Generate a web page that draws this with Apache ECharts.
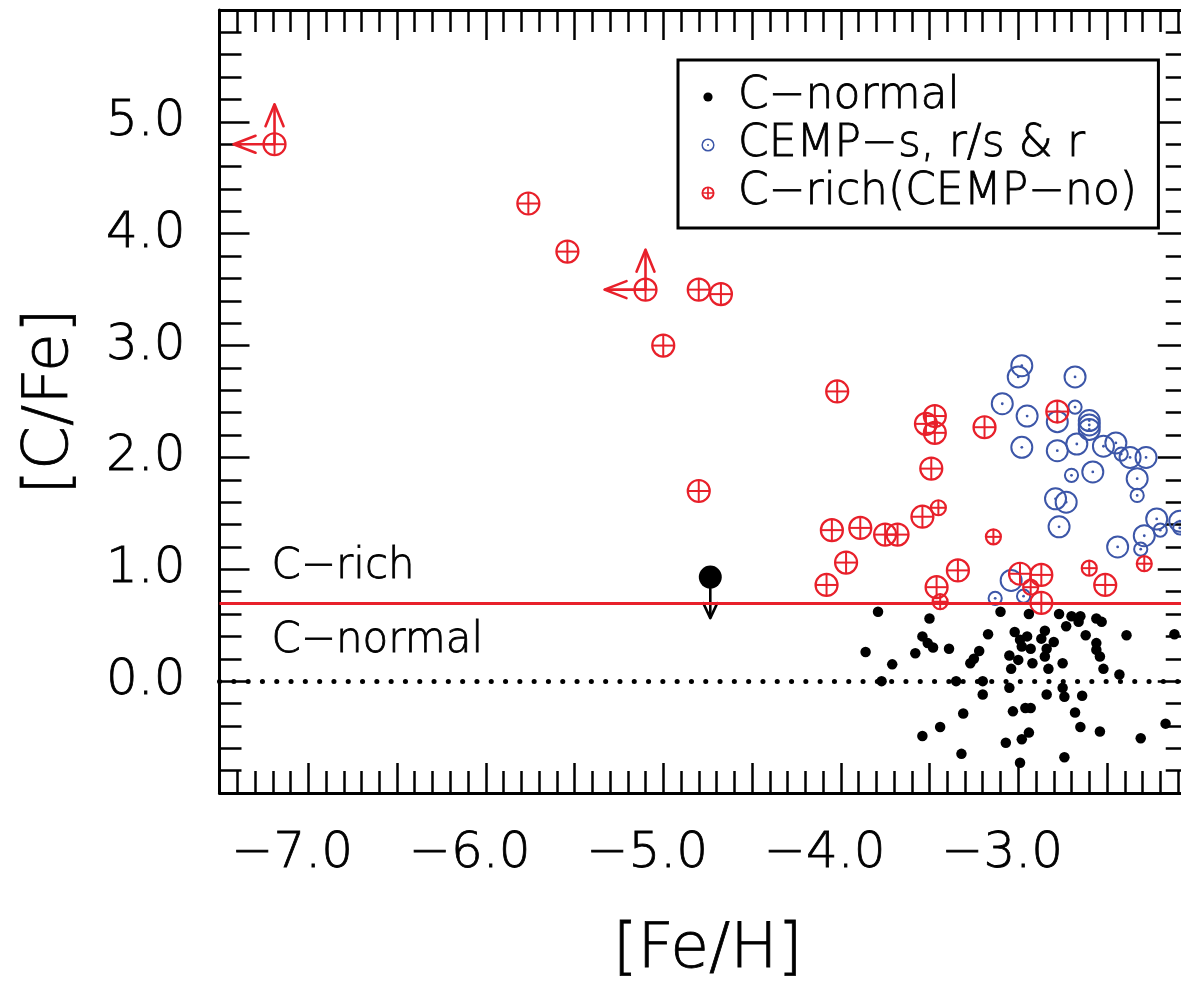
<!DOCTYPE html>
<html>
<head>
<meta charset="utf-8">
<title>[C/Fe] vs [Fe/H]</title>
<script src="https://cdn.jsdelivr.net/npm/echarts@6/dist/echarts.min.js"></script>
<style>
  html, body { margin: 0; padding: 0; background: #fff; overflow: hidden; }
  #chart { width: 1181px; height: 982px; }
</style>
</head>
<body>
<div id="chart"></div>
<script>
// ---- data: [Fe/H], [C/Fe] ----
const xTickValues = [-7, -6, -5, -4, -3];
const yTickValues = [0, 1, 2, 3, 4, 5];

// carbon-normal stars
const cNormal = [
  [-3.79, 0.62], [-3.50, 0.56], [-3.54, 0.40], [-3.51, 0.34], [-3.48, 0.30], [-3.86, 0.26],
  [-3.58, 0.25], [-3.39, 0.29], [-3.71, 0.15], [-3.27, 0.16], [-3.25, 0.20], [-3.22, 0.27],
  [-3.17, 0.42], [-3.10, 0.62], [-3.02, 0.44], [-2.99, 0.37], [-2.95, 0.40], [-2.98, 0.31],
  [-2.93, 0.29], [-2.94, 0.60], [-2.85, 0.45], [-2.87, 0.38], [-2.80, 0.35], [-2.84, 0.29],
  [-2.85, 0.22], [-3.05, 0.23], [-3.00, 0.19], [-2.92, 0.16], [-3.04, 0.11], [-2.83, 0.11],
  [-2.75, 0.16], [-2.77, 0.60], [-2.70, 0.58], [-2.65, 0.58], [-2.66, 0.53], [-2.73, 0.49],
  [-2.62, 0.41], [-2.56, 0.56], [-2.53, 0.53], [-2.56, 0.34], [-2.56, 0.28], [-2.54, 0.22],
  [-2.52, 0.11], [-2.43, 0.06], [-2.39, 0.41], [-2.12, 0.42], [-3.77, 0.00], [-3.35, 0.00],
  [-3.20, 0.00], [-3.20, -0.12], [-3.05, -0.06], [-2.75, -0.06], [-2.74, -0.14], [-2.64, -0.13],
  [-2.84, -0.12], [-3.31, -0.29], [-3.03, -0.27], [-2.96, -0.24], [-2.93, -0.24], [-2.68, -0.28],
  [-3.44, -0.41], [-3.54, -0.49], [-2.65, -0.41], [-2.54, -0.45], [-2.17, -0.38], [-2.31, -0.51],
  [-2.94, -0.46], [-2.98, -0.52], [-3.07, -0.55], [-3.32, -0.65], [-2.74, -0.68], [-2.99, -0.73]
];
// carbon-normal star with an upper limit on [C/Fe]
const cNormalUpperLimit = [[-4.735, 0.93]];

// CEMP-s, r/s and r stars
const cempSLarge = [
  [-2.98, 2.82], [-3.00, 2.72], [-2.68, 2.72], [-3.09, 2.48], [-2.95, 2.37], [-2.78, 2.32],
  [-2.60, 2.33], [-2.60, 2.29], [-2.60, 2.25], [-2.98, 2.09], [-2.78, 2.06], [-2.67, 2.12],
  [-2.52, 2.10], [-2.45, 2.13], [-2.37, 2.00], [-2.28, 2.00], [-2.58, 1.87], [-2.33, 1.81],
  [-2.79, 1.63], [-2.73, 1.60], [-2.77, 1.38], [-2.22, 1.45], [-2.09, 1.43], [-2.29, 1.30],
  [-2.44, 1.20], [-3.04, 0.90]
];
const cempSSmall = [
  [-2.68, 2.45], [-2.42, 2.03], [-2.70, 1.84], [-2.33, 1.66], [-2.20, 1.35], [-2.09, 1.37],
  [-2.31, 1.18], [-3.13, 0.74], [-2.97, 0.76]
];

// C-rich (CEMP-no) stars
const cempNoLarge = [
  [-5.76, 4.27], [-5.54, 3.84], [-4.80, 3.50], [-4.675, 3.46], [-5.00, 3.00], [-4.02, 2.59],
  [-4.80, 1.70], [-3.52, 2.30], [-3.47, 2.37], [-3.47, 2.22], [-3.49, 1.90], [-3.19, 2.27],
  [-2.78, 2.41], [-3.54, 1.47], [-4.05, 1.35], [-3.89, 1.37], [-3.75, 1.31], [-3.68, 1.31],
  [-3.97, 1.06], [-4.08, 0.86], [-3.34, 0.99], [-3.46, 0.84], [-2.99, 0.96], [-2.87, 0.95],
  [-2.87, 0.70], [-2.51, 0.86]
];
const cempNoSmall = [
  [-3.45, 1.55], [-3.14, 1.29], [-3.44, 0.71], [-2.93, 0.84], [-2.60, 1.01], [-2.29, 1.05]
];
// C-rich stars with a lower limit on [C/Fe] and an upper limit on [Fe/H]
const cempNoLimits = [[-7.19, 4.80], [-5.10, 3.50]];

// reference levels and region labels
const cRichThreshold = 0.7;
const solarLevel = 0.0;
const regionLabels = [[-7.21, 1.02, 'C−rich'], [-7.21, 0.36, 'C−normal']];

// ---- styling ----
const FONT = '"DejaVu Sans", "Liberation Sans", sans-serif';
const RED = '#e8202a';
const BLUE = '#3c56a8';
const BLACK = '#000';
// thin face, slightly emboldened with a hairline outline
const textLook = { fontFamily: FONT, fontWeight: 300, color: BLACK, textBorderColor: BLACK, textBorderWidth: 0.8 };

const NAME_NORMAL = 'C−normal';
const NAME_CEMPS = 'CEMP−s, r/s & r';
const NAME_CEMPNO = 'C−rich(CEMP−no)';

function svgIcon(body) {
  const svg = '<svg xmlns="http://www.w3.org/2000/svg" width="50" height="14" viewBox="0 0 50 14">' + body + '</svg>';
  return 'image://data:image/svg+xml;charset=utf-8,' + encodeURIComponent(svg);
}
const iconDot = svgIcon('<circle cx="25" cy="7" r="4.6" fill="' + BLACK + '"/>');
const iconRingDot = svgIcon('<circle cx="25" cy="7" r="5.8" fill="none" stroke="' + BLUE + '" stroke-width="1.5"/>' +
  '<circle cx="25" cy="7" r="1" fill="' + BLUE + '"/>');
const iconRingPlus = svgIcon('<circle cx="25" cy="7" r="5.6" fill="none" stroke="' + RED + '" stroke-width="1.9"/>' +
  '<path d="M19.4 7H30.6M25 1.4V12.6" stroke="' + RED + '" stroke-width="1.7"/>');

function ringPlus(p, r) {
  return [
    { type: 'circle', shape: { cx: p[0], cy: p[1], r: r }, style: { fill: 'none', stroke: RED, lineWidth: 2.2 } },
    { type: 'line', shape: { x1: p[0] - r, y1: p[1], x2: p[0] + r, y2: p[1] }, style: { stroke: RED, lineWidth: 2 } },
    { type: 'line', shape: { x1: p[0], y1: p[1] - r, x2: p[0], y2: p[1] + r }, style: { stroke: RED, lineWidth: 2 } }
  ];
}
function ringDot(p, r) {
  return [
    { type: 'circle', shape: { cx: p[0], cy: p[1], r: r }, style: { fill: 'none', stroke: BLUE, lineWidth: 2 } },
    { type: 'circle', shape: { cx: p[0], cy: p[1], r: 1.4 }, style: { fill: BLUE } }
  ];
}
// open arrow starting at p, pointing along (dx, dy)
function arrow(p, dx, dy, len, head, half, color) {
  const tip = [p[0] + dx * len, p[1] + dy * len];
  const nx = -dy, ny = dx;
  const b = [tip[0] - dx * head, tip[1] - dy * head];
  return [
    { type: 'line', shape: { x1: p[0], y1: p[1], x2: tip[0], y2: tip[1] }, style: { stroke: color, lineWidth: 2.6 } },
    { type: 'polyline', shape: { points: [[b[0] + nx * half, b[1] + ny * half], tip, [b[0] - nx * half, b[1] - ny * half]] },
      style: { fill: 'none', stroke: color, lineWidth: 2.6, lineCap: 'round', lineJoin: 'round' } }
  ];
}

function markerSeries(name, data, draw) {
  return {
    type: 'custom',
    name: name,
    coordinateSystem: 'cartesian2d',
    data: data,
    silent: true,
    renderItem: function (params, api) {
      const p = api.coord([api.value(0), api.value(1)]);
      return { type: 'group', children: draw(p) };
    }
  };
}

const tickStyle = { color: BLACK, width: 2.5 };
function xAxisBase(extra) {
  return Object.assign({
    type: 'value', min: -7.5, max: -2.0, interval: 0.5,
    axisLine: { show: true, onZero: false, lineStyle: { color: BLACK, width: 3 } },
    axisTick: { show: true, inside: true, length: 30, lineStyle: tickStyle },
    minorTick: { show: true, splitNumber: 5, length: 22, lineStyle: tickStyle },
    splitLine: { show: false }, minorSplitLine: { show: false }
  }, extra);
}
function yAxisBase(extra) {
  return Object.assign({
    type: 'value', min: -1, max: 6, interval: 1,
    axisLine: { show: true, onZero: false, lineStyle: { color: BLACK, width: 3 } },
    axisTick: { show: true, inside: true, length: 30, lineStyle: tickStyle },
    minorTick: { show: true, splitNumber: 5, length: 22, lineStyle: tickStyle },
    splitLine: { show: false }, minorSplitLine: { show: false }
  }, extra);
}
function isTick(v, list) {
  return list.some(t => Math.abs(t - v) < 1e-6);
}

const chart = echarts.init(document.getElementById('chart'), null, { renderer: 'canvas' });
chart.setOption({
  animation: false,
  backgroundColor: '#fff',
  grid: { left: 219.5, top: 10, width: 976.25, height: 783, containLabel: false, outerBoundsMode: 'none' },
  legend: {
    orient: 'vertical', left: 678, top: 60,
    padding: [13, 21, 11, 5], itemGap: 0, itemWidth: 50, itemHeight: 14,
    backgroundColor: '#fff', borderColor: BLACK, borderWidth: 3, borderRadius: 0,
    selectedMode: false,
    textStyle: Object.assign({ fontSize: 44, lineHeight: 48 }, textLook),
    data: [
      { name: NAME_NORMAL, icon: iconDot },
      { name: NAME_CEMPS, icon: iconRingDot },
      { name: NAME_CEMPNO, icon: iconRingPlus }
    ]
  },
  xAxis: [
    xAxisBase({
      position: 'bottom',
      name: '[Fe/H]', nameLocation: 'middle', nameGap: 126,
      nameTextStyle: Object.assign({ fontSize: 63 }, textLook),
      axisLabel: Object.assign({
        margin: 36, fontSize: 50, padding: [0, 32, 0, 0],
        formatter: v => isTick(v, xTickValues) ? '−' + Math.abs(v).toFixed(1) : ''
      }, textLook)
    }),
    xAxisBase({ position: 'top', axisLabel: { show: false } })
  ],
  yAxis: [
    yAxisBase({
      position: 'left',
      name: '[C/Fe]', nameLocation: 'middle', nameGap: 137,
      nameTextStyle: Object.assign({ fontSize: 63 }, textLook),
      axisLabel: Object.assign({
        margin: 34, fontSize: 50,
        formatter: v => isTick(v, yTickValues) ? v.toFixed(1) : ''
      }, textLook)
    }),
    yAxisBase({ position: 'right', offset: -8, axisLabel: { show: false } })
  ],
  series: [
    {
      type: 'scatter', name: NAME_NORMAL, data: cNormal,
      symbol: 'circle', symbolSize: 10.5, itemStyle: { color: BLACK, opacity: 1 }, silent: true,
      markLine: {
        silent: true, symbol: 'none', animation: false, label: { show: false },
        data: [
          { yAxis: cRichThreshold, lineStyle: { color: RED, width: 3, type: 'solid', opacity: 1 } },
          { yAxis: solarLevel, lineStyle: { color: BLACK, width: 5, type: [0.1, 14.2], cap: 'round', dashOffset: 0, opacity: 1 } }
        ]
      }
    },
    markerSeries(NAME_NORMAL, cNormalUpperLimit, p => [
      { type: 'circle', shape: { cx: p[0], cy: p[1], r: 11.5 }, style: { fill: BLACK } }
    ].concat(arrow(p, 0, 1, 41, 15, 7, BLACK))),
    markerSeries(NAME_CEMPS, cempSLarge, p => ringDot(p, 10.5)),
    markerSeries(NAME_CEMPS, cempSSmall, p => ringDot(p, 6.6)),
    markerSeries(NAME_CEMPNO, cempNoLarge, p => ringPlus(p, 11)),
    markerSeries(NAME_CEMPNO, cempNoSmall, p => ringPlus(p, 7.5)),
    markerSeries(NAME_CEMPNO, cempNoLimits, p => ringPlus(p, 11)
      .concat(arrow(p, 0, -1, 40, 22, 9, RED))
      .concat(arrow(p, -1, 0, 41, 22, 8.5, RED))),
    {
      type: 'scatter', name: 'region labels', data: regionLabels,
      symbolSize: 1, itemStyle: { color: 'rgba(0,0,0,0)', opacity: 1 }, silent: true,
      label: Object.assign({
        show: true, position: 'right', distance: 0, fontSize: 42, opacity: 1,
        formatter: p => p.value[2]
      }, textLook)
    }
  ]
});
</script>
</body>
</html>
